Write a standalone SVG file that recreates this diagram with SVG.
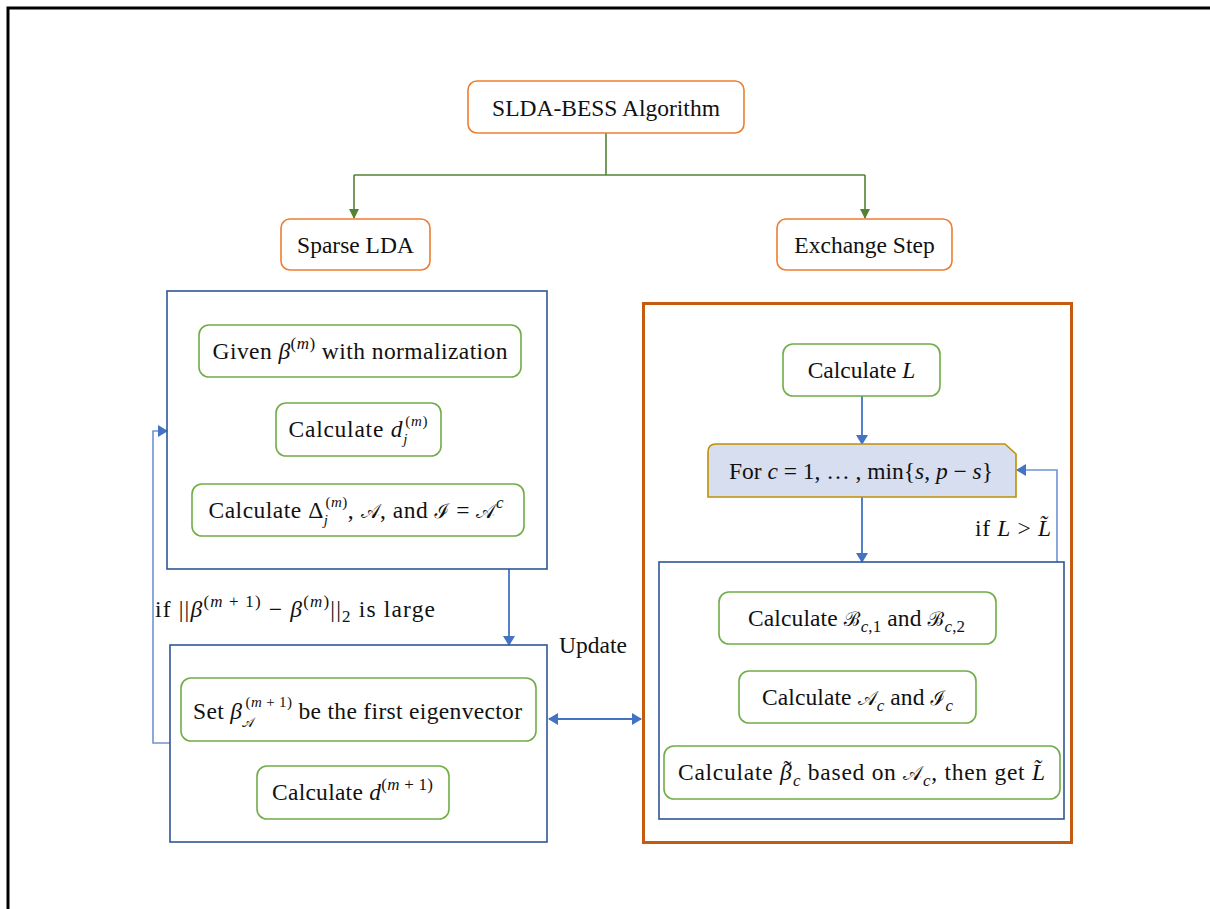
<svg xmlns="http://www.w3.org/2000/svg" width="1210" height="909" viewBox="0 0 1210 909">
<style>
text{font-family:"Liberation Serif","Times New Roman",serif;font-size:23.5px;fill:#111;}
.c{text-anchor:middle;}
.m{font-style:italic;}
.s{font-size:17px;}
.t{font-size:15px;}
.sc{font-family:"DejaVu Serif","Noto Sans","Liberation Serif",serif;font-style:normal;font-size:20px;}
.scs{font-family:"DejaVu Serif","Noto Sans","Liberation Serif",serif;font-style:normal;font-size:13px;}
.or{fill:#fff;stroke:#ED7D31;stroke-width:1.6;}
.gr{fill:#fff;stroke:#70AD47;stroke-width:1.6;}
.bl{fill:none;stroke:#2F5597;stroke-width:1.6;}
.big{fill:none;stroke:#C55A11;stroke-width:3;}
.gl{fill:none;stroke:#548235;stroke-width:1.6;}
.bline{fill:none;stroke:#4472C4;stroke-width:1.8;}
.lline{fill:none;stroke:#6F93D6;stroke-width:1.6;}
</style>
<defs>
<marker id="ga" markerWidth="10" markerHeight="10" refX="9" refY="5" orient="auto" markerUnits="userSpaceOnUse"><path d="M0,0 L10,5 L0,10 Z" fill="#548235"/></marker>
<marker id="ba" markerWidth="10" markerHeight="12" refX="9" refY="6" orient="auto-start-reverse" markerUnits="userSpaceOnUse"><path d="M0,0 L10,6 L0,12 Z" fill="#4472C4"/></marker>
</defs>
<path d="M8,909 V8 H1210" fill="none" stroke="#000" stroke-width="3"/>

<g id="connectors">
<path class="gl" d="M606,133 V175 M354,175 H865"/>
<path class="gl" d="M354,175 V218" marker-end="url(#ga)"/>
<path class="gl" d="M865,175 V218" marker-end="url(#ga)"/>
<path class="bline" d="M509,569 V645" marker-end="url(#ba)"/>
<path class="lline" d="M170,743 H153 V431 H167" marker-end="url(#ba)"/>
<path class="bline" d="M549,719 H641" marker-start="url(#ba)" marker-end="url(#ba)"/>
<path class="bline" d="M862,396 V444" marker-end="url(#ba)"/>
<path class="bline" d="M862,497 V562" marker-end="url(#ba)"/>
<path class="lline" d="M1057,562 V470 H1017" marker-end="url(#ba)"/>
</g>

<g id="title"><rect class="or" x="468" y="81" width="276" height="52" rx="9"/><text class="c" x="606" y="116">SLDA-BESS Algorithm</text></g>
<g id="sparse-lda"><rect class="or" x="281" y="219" width="149" height="51" rx="9"/><text class="c" x="355.5" y="253">Sparse LDA</text></g>
<g id="exchange-step"><rect class="or" x="777" y="219" width="175" height="51" rx="9"/><text class="c" x="864.5" y="253">Exchange Step</text></g>

<g id="sparse-frame"><rect class="bl" x="167" y="291" width="380" height="278"/></g>
<g id="given"><rect class="gr" x="199" y="325" width="322" height="52" rx="10"/><text class="c" x="360" y="359" textLength="295" lengthAdjust="spacing">Given <tspan class="m">β</tspan><tspan class="s" dy="-10">(<tspan class="m">m</tspan>)</tspan><tspan dy="10"> with normalization</tspan></text></g>
<g id="calc-d"><rect class="gr" x="276" y="403" width="165" height="53" rx="10"/><text class="c" x="358" y="437" textLength="139" lengthAdjust="spacing">Calculate <tspan class="m">d</tspan><tspan class="t m" dy="7">j</tspan><tspan class="t" dx="-3" dy="-18">(<tspan class="m">m</tspan>)</tspan><tspan dy="11"/></text></g>
<g id="calc-delta"><rect class="gr" x="192" y="484" width="332" height="52" rx="10"/><text class="c" x="356" y="518" textLength="295" lengthAdjust="spacing">Calculate Δ<tspan class="t m" dy="7">j</tspan><tspan class="t" dx="-3" dy="-18">(<tspan class="m">m</tspan>)</tspan><tspan dy="11">, </tspan><tspan class="sc">𝒜</tspan>, and <tspan class="sc">ℐ</tspan> = <tspan class="sc">𝒜</tspan><tspan class="s m" dy="-10">c</tspan></text></g>

<g id="if-large-label"><text x="155" y="617" textLength="280" lengthAdjust="spacing">if ||<tspan class="m">β</tspan><tspan class="s" dy="-10">(<tspan class="m">m</tspan> + 1)</tspan><tspan dy="10"> − </tspan><tspan class="m">β</tspan><tspan class="s" dy="-10">(<tspan class="m">m</tspan>)</tspan><tspan dy="10">||</tspan><tspan class="s" dy="5">2</tspan><tspan dy="-5"> is large</tspan></text></g>

<g id="update-frame"><rect class="bl" x="170" y="645" width="377" height="197"/></g>
<g id="set-beta"><rect class="gr" x="181" y="678" width="355" height="63" rx="10"/><text class="c" x="357.5" y="719" textLength="329" lengthAdjust="spacing">Set <tspan class="m">β</tspan><tspan class="scs" dy="8">𝒜</tspan><tspan class="t" dx="-9" dy="-20">(<tspan class="m">m</tspan> + 1)</tspan><tspan dy="12"> be the first eigenvector</tspan></text></g>
<g id="calc-d-next"><rect class="gr" x="257" y="766" width="192" height="53" rx="10"/><text class="c" x="352.5" y="800" textLength="161" lengthAdjust="spacing">Calculate <tspan class="m">d</tspan><tspan class="s" dy="-10">(<tspan class="m">m</tspan> + 1)</tspan></text></g>

<g id="update-label"><text x="559" y="653">Update</text></g>

<g id="exchange-frame"><rect class="big" x="643.5" y="303.5" width="428" height="539"/></g>
<g id="calc-L"><rect class="gr" x="783" y="344" width="157" height="52" rx="10"/><text class="c" x="861.5" y="378">Calculate <tspan class="m">L</tspan></text></g>
<g id="for-loop"><path d="M716,444 H1005 L1016,454 V497 H708 V452 Q708,444 716,444 Z" fill="#D6DEF0" stroke="#BF9000" stroke-width="1.6"/><text class="c" x="861" y="479" textLength="264" lengthAdjust="spacing">For <tspan class="m">c</tspan> = 1, … , min{<tspan class="m">s</tspan>, <tspan class="m">p</tspan> − <tspan class="m">s</tspan>}</text></g>
<g id="if-L-label"><text x="975" y="536" textLength="76" lengthAdjust="spacing">if <tspan class="m">L</tspan> &gt; <tspan class="m">L̃</tspan></text></g>

<g id="inner-frame"><rect class="bl" x="659" y="562" width="405" height="257"/></g>
<g id="calc-B"><rect class="gr" x="719" y="592" width="277" height="52" rx="10"/><text class="c" x="856.5" y="626" textLength="217" lengthAdjust="spacing">Calculate <tspan class="sc">ℬ</tspan><tspan class="s m" dy="6">c</tspan><tspan class="s">,1</tspan><tspan dy="-6"> and </tspan><tspan class="sc">ℬ</tspan><tspan class="s m" dy="6">c</tspan><tspan class="s">,2</tspan></text></g>
<g id="calc-AI"><rect class="gr" x="739" y="671" width="237" height="52" rx="10"/><text class="c" x="857.5" y="705" textLength="191" lengthAdjust="spacing">Calculate <tspan class="sc">𝒜</tspan><tspan class="s m" dy="6">c</tspan><tspan dy="-6"> and </tspan><tspan class="sc">ℐ</tspan><tspan class="s m" dy="6">c</tspan></text></g>
<g id="calc-beta-tilde"><rect class="gr" x="664" y="746" width="396" height="53" rx="10"/><text class="c" x="861.5" y="780" textLength="367" lengthAdjust="spacing">Calculate <tspan class="m">β</tspan><tspan dx="-9" dy="-3">˜</tspan><tspan class="s m" dx="1" dy="9">c</tspan><tspan dy="-6"> based on  </tspan><tspan class="sc">𝒜</tspan><tspan class="s m" dy="6">c</tspan><tspan dy="-6">,  then get </tspan><tspan class="m">L̃</tspan></text></g>
</svg>
